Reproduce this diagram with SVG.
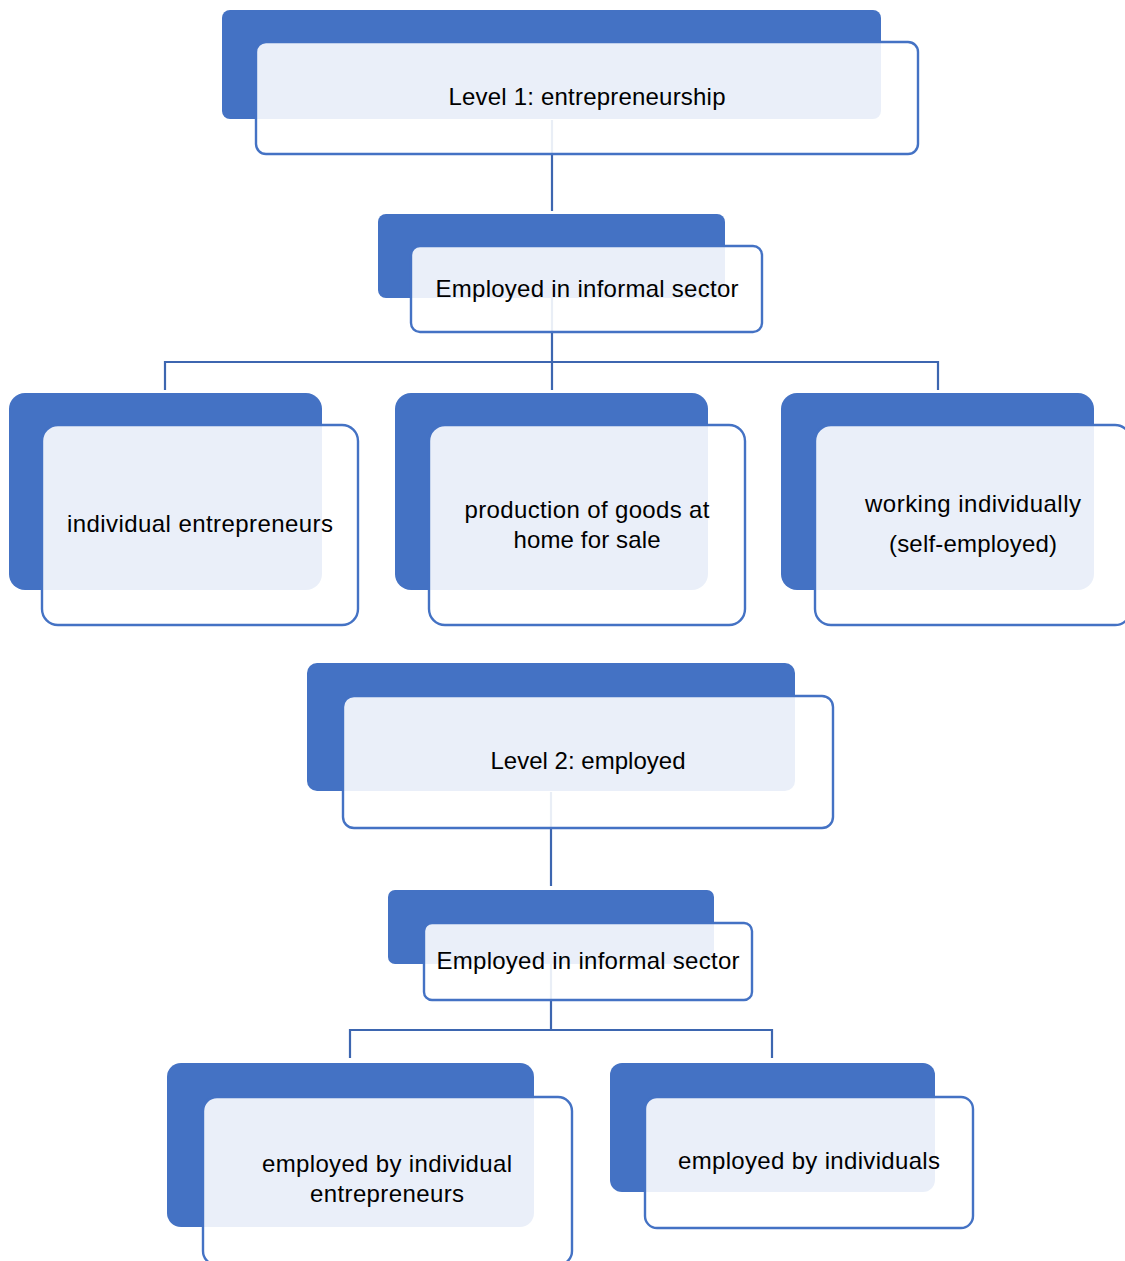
<svg xmlns="http://www.w3.org/2000/svg" width="1125" height="1261" viewBox="0 0 1125 1261">
<style>
.back{fill:#4472C4;}
.front{fill:#ffffff;fill-opacity:0.89;stroke:#4472C4;stroke-width:2.4;}
.conn{fill:none;stroke:#3D66B0;stroke-width:2.2;}
.t{font-family:"Liberation Sans",Arial,sans-serif;font-size:24px;fill:#000;text-anchor:middle;}
</style>
<rect width="1125" height="1261" fill="#ffffff"/>
<g id="connectors">
<path class="conn" d="M552,120 V211"/>
<path class="conn" d="M552,298 V390 M165,390 V362 H938 V390"/>
<path class="conn" d="M551,792 V886"/>
<path class="conn" d="M551,964 V1030 M350,1058 V1030 H772 V1058"/>
</g>
<g id="node-level1">
<rect class="back" x="222" y="10" width="659" height="109" rx="8"/>
<rect class="front" x="256" y="42" width="662" height="112" rx="10"/>
<text class="t" x="587" y="105" textLength="277">Level 1: entrepreneurship</text>
</g>
<g id="node-informal1">
<rect class="back" x="378" y="214" width="347" height="84" rx="8"/>
<rect class="front" x="411" y="246" width="351" height="86" rx="9"/>
<text class="t" x="587" y="297" textLength="303">Employed in informal sector</text>
</g>
<g id="node-individual-entrepreneurs">
<rect class="back" x="9" y="393" width="313" height="197" rx="16"/>
<rect class="front" x="42" y="425" width="316" height="200" rx="16"/>
<text class="t" x="200" y="532" textLength="266">individual entrepreneurs</text>
</g>
<g id="node-production">
<rect class="back" x="395" y="393" width="313" height="197" rx="16"/>
<rect class="front" x="429" y="425" width="316" height="200" rx="16"/>
<text class="t" x="587" y="518" textLength="245">production of goods at</text>
<text class="t" x="587" y="548" textLength="147">home for sale</text>
</g>
<g id="node-working-individually">
<rect class="back" x="781" y="393" width="313" height="197" rx="16"/>
<rect class="front" x="815" y="425" width="316" height="200" rx="16"/>
<text class="t" x="973" y="512" textLength="216">working individually</text>
<text class="t" x="973" y="552" textLength="168">(self-employed)</text>
</g>
<g id="node-level2">
<rect class="back" x="307" y="663" width="488" height="128" rx="10"/>
<rect class="front" x="343" y="696" width="490" height="132" rx="11"/>
<text class="t" x="588" y="769" textLength="195">Level 2: employed</text>
</g>
<g id="node-informal2">
<rect class="back" x="388" y="890" width="326" height="74" rx="7"/>
<rect class="front" x="424" y="923" width="328" height="77" rx="8"/>
<text class="t" x="588" y="969" textLength="303">Employed in informal sector</text>
</g>
<g id="node-employed-by-entrepreneurs">
<rect class="back" x="167" y="1063" width="367" height="164" rx="14"/>
<rect class="front" x="203" y="1097" width="369" height="168" rx="14"/>
<text class="t" x="387" y="1172" textLength="250">employed by individual</text>
<text class="t" x="387" y="1202" textLength="154">entrepreneurs</text>
</g>
<g id="node-employed-by-individuals">
<rect class="back" x="610" y="1063" width="325" height="129" rx="12"/>
<rect class="front" x="645" y="1097" width="328" height="131" rx="12"/>
<text class="t" x="809" y="1169" textLength="262">employed by individuals</text>
</g>
</svg>
